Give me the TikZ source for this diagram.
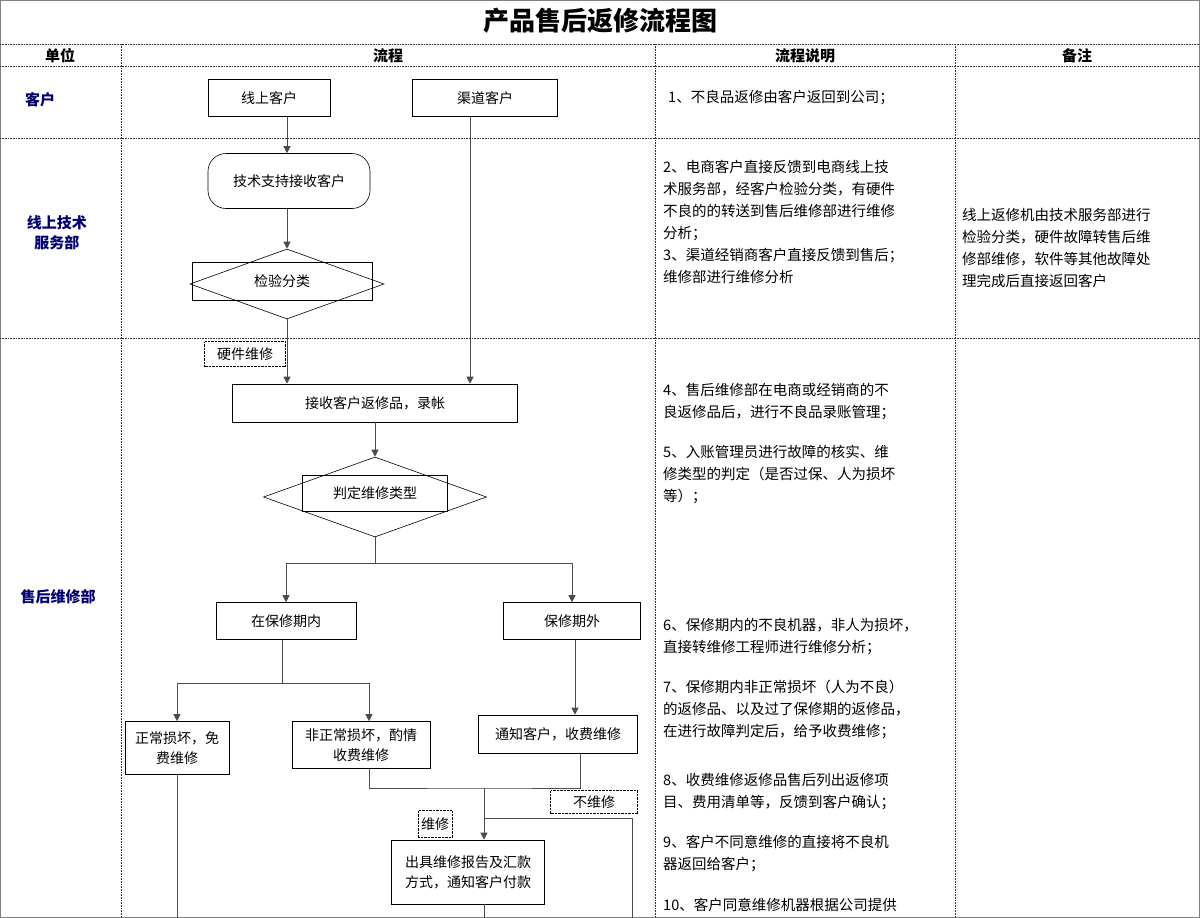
\documentclass[tikz,border=0pt]{standalone}
\usepackage{fontspec}
\setmainfont{Noto Sans CJK SC}
\usetikzlibrary{positioning,calc,shapes.geometric,arrows.meta}

\begin{document}
\begin{tikzpicture}[x=1pt,y=-1pt,
every node/.style = {inner sep=2pt, font=\fontsize{14}{20}\selectfont},
box/.style = {shape=rectangle, draw=black, semithick, align=center},
lbl/.style = {shape=rectangle, draw=black, densely dotted, thin, align=center},
dia/.style = {shape=diamond, draw=black, semithick, inner sep=0pt},
unit/.style = {text=blue!45!black, font=\fontsize{15}{20}\selectfont\bfseries, align=center},
head/.style = {font=\fontsize{15}{18}\selectfont\bfseries},
note/.style = {anchor=north west, align=left, inner sep=0pt,
	font=\fontsize{14.5}{22}\selectfont},
grid/.style = {densely dotted, black!80, semithick},
flow/.style = {black!70, thick},
arr/.style = {flow, -{Triangle[length=7pt,width=7pt]}}
]
\useasboundingbox (0,0) rectangle (1200,918);
% frame and table
\draw[black!50] (0.5,0.5) rectangle (1199.5,917.5);
\foreach \y in {44,66,138,338}
	\draw[grid] (0,\y) -- (1200,\y);
\foreach \x in {121,655,955}
	\draw[grid] (\x,44) -- (\x,918);
\node[font=\fontsize{26}{30}\selectfont\bfseries] (title) at (600,21) {产品售后返修流程图};
\node[head] (h1) at (60,56) {单位};
\node[head] (h2) at (388,56) {流程};
\node[head] (h3) at (805,56) {流程说明};
\node[head] (h4) at (1077,56) {备注};
\node[unit] (u1) at (40,100) {客户};
\node[unit] (u2) at (57,233) {线上技术\\服务部};
\node[unit] (u3) at (58,597) {售后维修部};

% flow nodes
\node[box, minimum width=122, minimum height=37] (web) at (269,98) {线上客户};
\node[box, minimum width=145, minimum height=37] (dlr) at (485,98) {渠道客户};
\node[box, rounded corners=18pt, minimum width=162, minimum height=55] (sup) at (289,181) {技术支持接收客户};
\node[dia, minimum width=194, minimum height=70] (chkD) at (287,284) {};
\node[box, minimum width=180, minimum height=38] (chk) at (282,281) {检验分类};
\node[box, minimum width=285, minimum height=38] (rec) at (375,403) {接收客户返修品，录帐};
\node[dia, minimum width=223, minimum height=80] (typD) at (375,497) {};
\node[box, minimum width=145, minimum height=36] (typ) at (375,493) {判定维修类型};
\node[box, minimum width=140, minimum height=37] (inW) at (286,621) {在保修期内};
\node[box, minimum width=137, minimum height=37] (outW) at (572,621) {保修期外};
\node[box, text width=100, minimum height=53] (free) at (177,748) {正常损坏，免\\费维修};
\node[box, minimum width=138, minimum height=47] (paid) at (361,745) {非正常损坏，酌情\\收费维修};
\node[box, minimum width=159, minimum height=38] (tell) at (558,734) {通知客户，收费维修};
\node[box, minimum width=153, minimum height=64, align=left] (rep) at (468,872) {出具维修报告及汇款\\方式，通知客户付款};
\node[lbl, minimum width=81, minimum height=25] (hw) at (245,354) {硬件维修};
\node[lbl, minimum width=34, minimum height=27] (fix) at (435,824) {维修};
\node[lbl, minimum width=87, minimum height=23] (nofix) at (594,802) {不维修};

% connectors
\coordinate (sp1) at (375,563);
\coordinate (sp2) at (282,683);
\coordinate (jn) at (484,788);
\coordinate (nf) at (484,818);
\draw[arr] ([xshift=18]web.south) -- ([xshift=18]web.south |- sup.north);
\draw[arr] (sup.south -| chkD) -- (chkD.north);
\draw[arr] (chkD) -- (chkD |- rec.north);
\draw[arr] ([xshift=-15]dlr.south) -- ([xshift=-15]dlr.south |- rec.north);
\draw[arr] (rec) -- (typD);
\draw[flow] (typD.south) -- (sp1);
\draw[arr] (sp1) -| (inW);
\draw[arr] (sp1) -| (outW);
\draw[flow] (inW.south -| sp2) -- (sp2);
\draw[arr] (sp2) -| (free.north);
\draw[arr] (sp2) -| ([xshift=8]paid.north);
\draw[arr] ([xshift=3]outW.south) -- ([xshift=3]outW.south |- tell.north);
\draw[flow] ([xshift=8]paid.south) |- (jn) -| ([xshift=22]tell.south);
\draw[arr] (jn) -- (jn |- rep.north);
\draw[flow] (nf) -| (632,918);
\draw[flow] (free) -- (free.south |- 0,918);
\draw[flow] (rep.south -| jn) -- (484,918);

% description texts
\node[note] (n1) at (668,90) {1、不良品返修由客户返回到公司；};
\node[note] (n2) at (663,160) {2、电商客户直接反馈到电商线上技\\术服务部，经客户检验分类，有硬件\\不良的的转送到售后维修部进行维修\\分析；\\3、渠道经销商客户直接反馈到售后；\\维修部进行维修分析};
\node[note] (n4) at (663,383) {4、售后维修部在电商或经销商的不\\良返修品后，进行不良品录账管理；};
\node[note] (n5) at (663,445) {5、入账管理员进行故障的核实、维\\修类型的判定（是否过保、人为损坏\\等）；};
\node[note] (n6) at (663,618) {6、保修期内的不良机器，非人为损坏，\\直接转维修工程师进行维修分析；};
\node[note] (n7) at (663,680) {7、保修期内非正常损坏（人为不良）\\的返修品、以及过了保修期的返修品，\\在进行故障判定后，给予收费维修；};
\node[note] (n8) at (663,773) {8、收费维修返修品售后列出返修项\\目、费用清单等，反馈到客户确认；};
\node[note] (n9) at (663,835) {9、客户不同意维修的直接将不良机\\器返回给客户；};
\node[note] (n10) at (663,898) {10、客户同意维修机器根据公司提供};
\node[note] (r1) at (962,208) {线上返修机由技术服务部进行\\检验分类，硬件故障转售后维\\修部维修，软件等其他故障处\\理完成后直接返回客户};
\end{tikzpicture}
\end{document}
